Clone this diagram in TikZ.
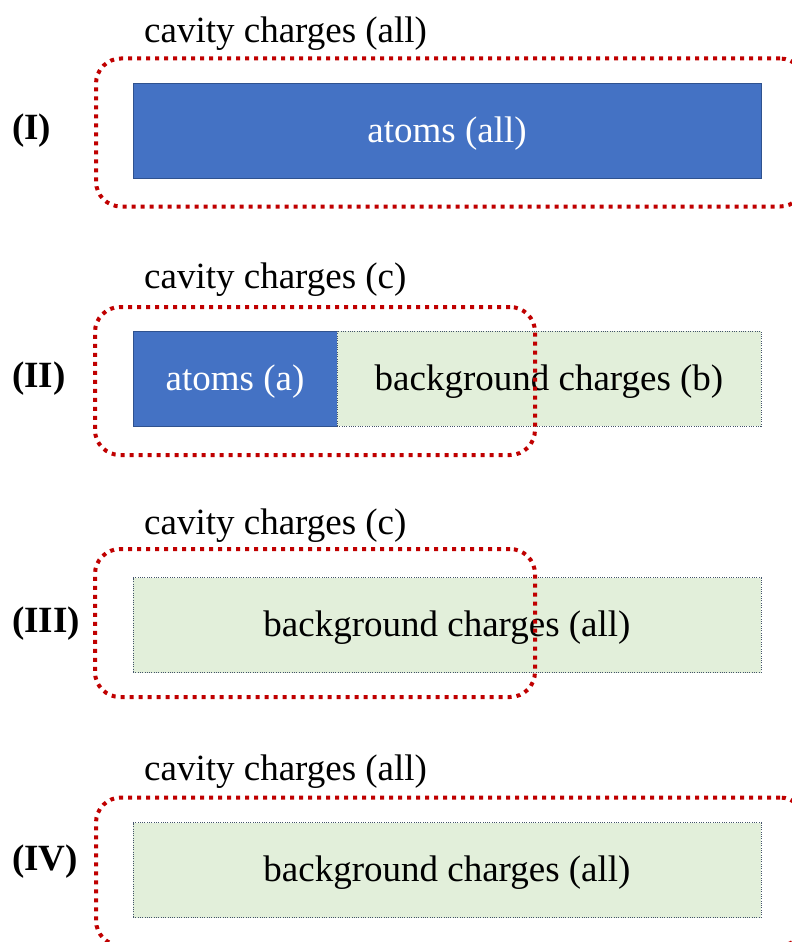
\documentclass[tikz,border=0pt]{standalone}
\usepackage{fontspec}
\setmainfont{Liberation Serif}
\definecolor{atomblue}{RGB}{68,114,196}
\definecolor{atomedge}{RGB}{47,82,143}
\definecolor{bgfill}{RGB}{226,239,218}
\definecolor{bgedge}{RGB}{68,84,106}
\definecolor{cavred}{RGB}{192,0,0}
\tikzset{
  bigtext/.style={font=\fontsize{37}{41}\selectfont},
  atombox/.style={draw=atomedge, line width=1pt, fill=atomblue, text=white, bigtext, inner sep=0pt, minimum height=95pt, text height=31pt, text depth=8pt},
  bgbox/.style={draw=bgedge, line width=0.9pt, dash pattern=on 1pt off 1.3pt, fill=bgfill, text=black, bigtext, inner sep=0pt, minimum height=95pt, text height=31pt, text depth=8pt},
  cavbox/.style={draw=cavred, line width=4pt, dash pattern=on 4pt off 5pt, rounded corners=25pt, inner sep=0pt, minimum height=148pt},
  cavlabel/.style={bigtext, anchor=base west, inner sep=0pt},
  caselabel/.style={font=\fontsize{37}{41}\selectfont\bfseries, anchor=west, inner sep=0pt}
}
\begin{document}
\begin{tikzpicture}[x=1pt,y=-1pt]
\useasboundingbox (0,0) rectangle (792,942);
\clip (0,0) rectangle (792,942);
\fill[white] (0,0) rectangle (792,942);

% (I)
\node[cavlabel] (labI) at (144,43) {cavity charges (all)};
\node[caselabel] (caseI) at (12,131) {(I)};
\node[atombox, minimum width=628pt] (atI) at (447,130.5) {atoms (all)};
\node[cavbox, minimum width=709pt] (cavI) at (450.5,132.5) {};

% (II)
\node[cavlabel] (labII) at (144,288) {cavity charges (c)};
\node[caselabel] (caseII) at (12,379) {(II)};
\node[atombox, minimum width=204pt] (atII) at (235,378.5) {atoms (a)};
\node[bgbox, minimum width=424pt] (bgII) at (549,378.5) {background charges (b)};
\node[cavbox, minimum width=440pt] (cavII) at (315,381) {};

% (III)
\node[cavlabel] (labIII) at (144,534) {cavity charges (c)};
\node[caselabel] (caseIII) at (12,624) {(III)};
\node[bgbox, minimum width=628pt] (bgIII) at (447,625) {background charges (all)};
\node[cavbox, minimum width=440pt] (cavIII) at (315,623) {};

% (IV)
\node[cavlabel] (labIV) at (144,780) {cavity charges (all)};
\node[caselabel] (caseIV) at (12,862) {(IV)};
\node[bgbox, minimum width=628pt] (bgIV) at (447,870) {background charges (all)};
\node[cavbox, minimum width=709pt] (cavIV) at (450.5,871.5) {};
\end{tikzpicture}
\end{document}
